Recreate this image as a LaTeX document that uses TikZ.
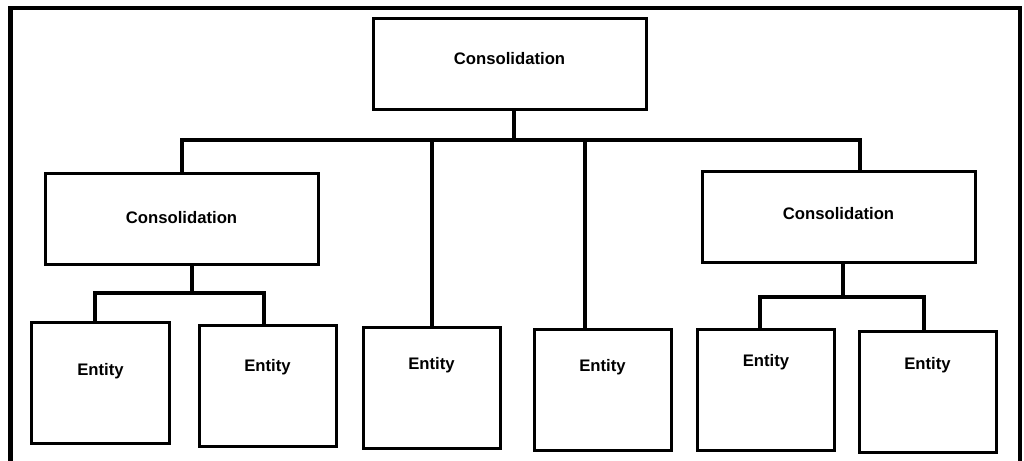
\documentclass[tikz,border=0pt]{standalone}
\usepackage{fontspec}
\setmainfont{Liberation Sans}
\usetikzlibrary{positioning}

\tikzset{
  consbox/.style={draw=black, line width=0.06cm, minimum width=5.46cm, minimum height=1.82cm, font=\fontsize{9.5pt}{11pt}\selectfont\bfseries},
  entbox/.style={draw=black, line width=0.06cm, minimum width=2.74cm, minimum height=2.42cm, font=\fontsize{9.5pt}{11pt}\selectfont\bfseries},
  lift/.style={text depth=#1},
  link/.style={line width=0.08cm},
  frame/.style={line width=0.085cm}
}

\begin{document}
\begin{tikzpicture}

\useasboundingbox (0,0) rectangle (20.48,-9.22);
\draw[frame] (0.21,-9.22) |- (20.4,-0.16) -- (20.4,-9.22);

\node[consbox, lift=0.24cm] (top) at (10.19,-1.28) {Consolidation};
\node[consbox, lift=0.10cm] (consleft) at (3.63,-4.39) {Consolidation};
\node[consbox, lift=0.18cm] (consright) at (16.77,-4.35) {Consolidation};

\node[entbox, lift=0.56cm] (ent1) at (2.01,-7.67) {Entity};
\node[entbox, lift=0.84cm] (ent2) at (5.35,-7.72) {Entity};
\node[entbox, lift=1.00cm] (ent3) at (8.63,-7.77) {Entity};
\node[entbox, lift=0.98cm] (ent4) at (12.05,-7.80) {Entity};
\node[entbox, lift=1.20cm] (ent5) at (15.32,-7.81) {Entity};
\node[entbox, lift=1.18cm] (ent6) at (18.55,-7.85) {Entity};

% bus levels
\coordinate (bus) at (0,-2.8);
\coordinate (lbus) at (0,-5.86);
\coordinate (rbus) at (0,-5.94);

% top level
\draw[link] ([xshift=0.09cm]top.south) -- ([xshift=0.09cm]top.south |- bus);
\draw[link] (consleft.north) |- ([xshift=0.43cm]consright.north |- bus) -- ([xshift=0.43cm]consright.north);
\draw[link] (ent3.north |- bus) -- (ent3.north);
\draw[link] ([xshift=-0.35cm]ent4.north |- bus) -- ([xshift=-0.35cm]ent4.north);

% left group
\draw[link] ([xshift=0.21cm]consleft.south) -- ([xshift=0.21cm]consleft.south |- lbus);
\draw[link] ([xshift=-0.11cm]ent1.north) |- ([xshift=-0.07cm]ent2.north |- lbus) -- ([xshift=-0.07cm]ent2.north);

% right group
\draw[link] ([xshift=0.09cm]consright.south) -- ([xshift=0.09cm]consright.south |- rbus);
\draw[link] ([xshift=-0.12cm]ent5.north) |- ([xshift=-0.07cm]ent6.north |- rbus) -- ([xshift=-0.07cm]ent6.north);

\end{tikzpicture}
\end{document}
